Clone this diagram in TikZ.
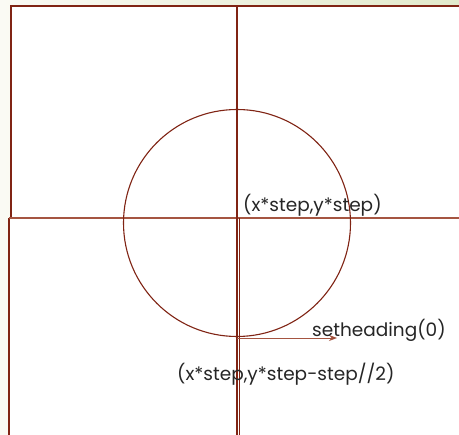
\documentclass[tikz,border=0pt]{standalone}
\usepackage{fontspec}
\setmainfont{Poppins}
\usetikzlibrary{arrows.meta, positioning}
\definecolor{linea}{RGB}{128,36,20}
\definecolor{lineaclara}{RGB}{165,85,65}
\definecolor{fondoA}{RGB}{250,250,244}
\definecolor{fondoB}{RGB}{226,234,204}

\begin{document}
\begin{tikzpicture}[x=1pt, y=-1pt,
            borde/.style={draw=linea, line width=1.2pt},
            texto/.style={font=\fontsize{18.5}{21}\selectfont, text=black!85, inner sep=0pt},
            flecha/.style={draw=lineaclara, line width=0.9pt, -{Stealth[length=8pt, width=6pt, fill=linea]}}]

            % fondo
            \shade[left color=fondoA, right color=fondoB] (0,0) rectangle (459,435);
            \useasboundingbox (0,0) rectangle (459,435);

            % hojas
            \fill[white] (11,6) rectangle (459,218);
            \fill[white] (9,218) rectangle (459,435);
            \draw[borde] (459,6) -- (11,6) -- (11,218);
            \draw[borde] (9,435) -- (9,218);
            \draw[draw=lineaclara, line width=1.2pt] (9,218) -- (459,218);
            \draw[borde] (237,6) -- (237,218);
            \draw[borde] (237,218) -- (237,435);
            \draw[borde] (239.5,218) -- (239.5,435);

            % tortuga
            \coordinate (C) at (237,223);
            \coordinate (S) at (237,338);
            \coordinate (H) at (337,338);
            \draw[linea, line width=1.1pt] (C) circle (113.5);
            \draw[flecha] (S) -- (H);

            \node[texto, anchor=base west] (centro) at (243,212) {(x*step,y*step)};
            \node[texto, anchor=base west] (rumbo) at (312,337) {setheading(0)};
            \node[texto, anchor=base west] (inicio) at (177,381) {(x*step,y*step-step//2)};
        \end{tikzpicture}
\end{document}
